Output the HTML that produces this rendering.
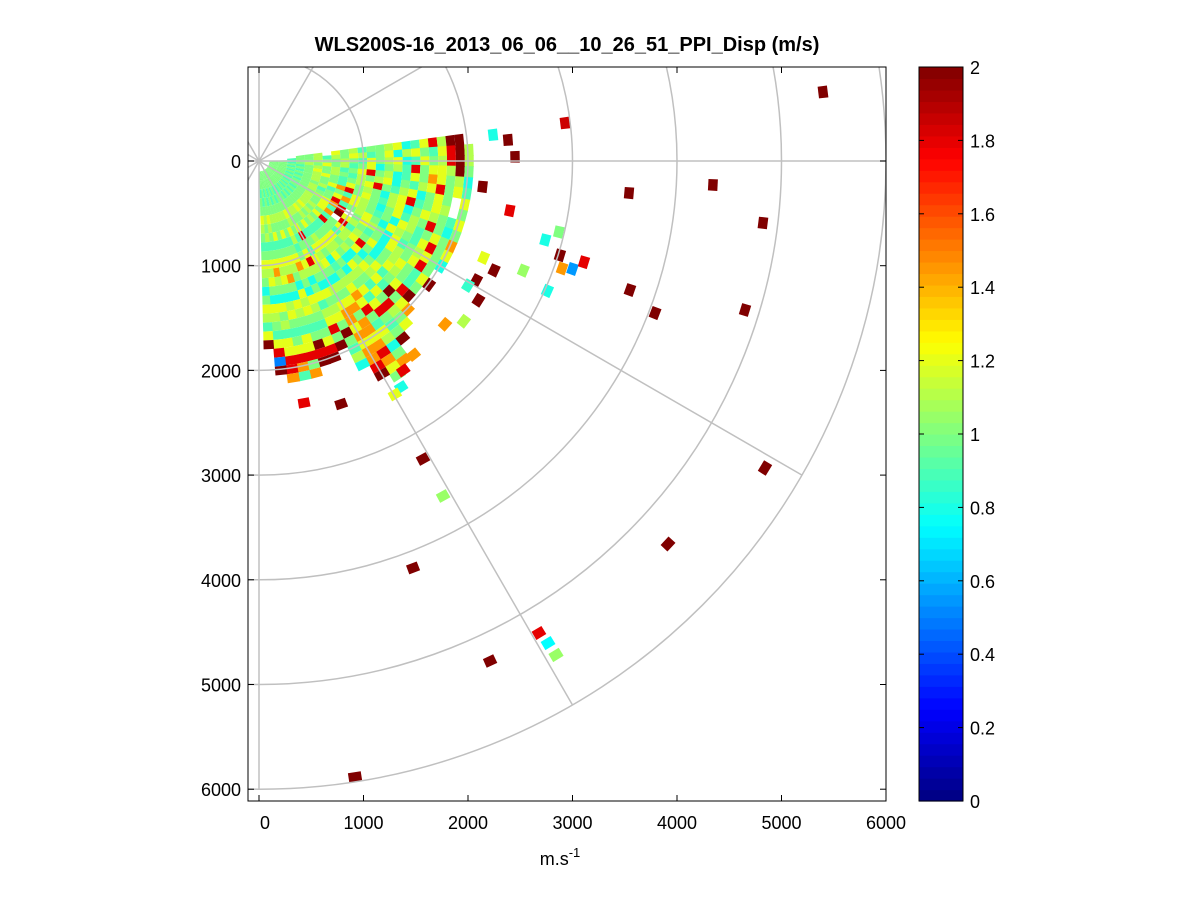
<!DOCTYPE html>
<html><head><meta charset="utf-8">
<style>
html,body{margin:0;padding:0;background:#fff;}
svg{display:block;font-family:"Liberation Sans",sans-serif;}
</style></head>
<body>
<svg id="chart" width="1201" height="901" viewBox="0 0 1201 901">
<defs><clipPath id="pc"><rect x="248" y="67" width="638" height="734"/></clipPath></defs>
<rect x="0" y="0" width="1201" height="901" fill="#fff"/>
<text x="567" y="51" font-size="20" font-weight="bold" text-anchor="middle">WLS200S-16_2013_06_06__10_26_51_PPI_Disp (m/s)</text>
<g id="plot" clip-path="url(#pc)"></g>
<rect x="248" y="67" width="638" height="734" fill="none" stroke="#000" stroke-width="1"/>
<g id="axes"></g>
<text x="560" y="865" font-size="18" text-anchor="middle">m.s<tspan dy="-8" font-size="13">-1</tspan></text>
<g id="cbar"></g>
</svg>
<script>
// ---- data ----
const xTicks=[0,1000,2000,3000,4000,5000,6000];
const yTicks=[0,1000,2000,3000,4000,5000,6000];
const cbTicks=[0,0.2,0.4,0.6,0.8,1,1.2,1.4,1.6,1.8,2];
const rings=[1000,2000,3000,4000,5000,6000];
const spokes=[-150,-120,-90,-60,-30,0,30,60,90,120,150,180];
// fan rays (azimuth deg, clockwise from +x, downward positive)
const rayAz=[-6,-3,0,3,6,9,12,15,18,21,24,27,30,33,36,39,42,45,48,51,54,57,60,63,66,69,72,75,78,81,84,87];
const gateStart=100, gateLen=85;
const codeVal={b:0.5,c:0.8,t:0.9,g:1.0,l:1.1,y:1.2,o:1.45,r:1.8,d:2.0};
const rayVals=[
"   ggl ygltgglyctyrldd",
"  tggltlgyltgyclygtyrdl",
"ggtgglgglgtyglyctyglrdl",
"ggtglgygltgycgltrgyyldg",
"gggtglgltgyrglctygoyglc",
"ggtggyglgtlglycgtlyrgyt",
"gggtglygtglyrgtlycgyg y",
"ggtgglggtyglgclyrtgyl g",
"gggtglgyorgygtlycgylgty",
"ggtgggltgtylgcgytlgrgcg",
"gggtgltgyoylgtgcyltgygo",
"ggtgglggrtglygcylgtyrgy",
"gggtgglyor gylgcytglygc",
"ggtgglgytdylgtgcylgyrg",
"gggtglgyo rtlgycglygtyd",
"ggtggllgtgylyrgcgylgtg",
"gggtglgyrgtlgycgytgyrd",
"ggtggylgtgyglcgylytdgyo",
"gggtglgltgylgcylgtygrlgy",
"ggtggylgtgylygclgytyrgtgd",
"gggtglgytlygctglyoyrgtylcgo",
"ggtgglggtgylygclgyogooyoroyg",
"gggtglgyrgtylgclgyooyoyoord",
"ggtggylgtgyrlgcyglygdgtlc",
"gggtglgyltgylcgytlyrgd",
"ggtgglggtgyolgcylgtgyrd",
"gggtglgytgylgcylygtgdrd",
"ggtgglggtgylogcylgtyyrgo",
"gggtglgytgylygclygtgyrot",
"ggtggylgtgyolgcygltyyrro",
"gggtglgltgylygcylgtyrbd",
"ggtggylgtgylgcgyltyd"
];
// isolated cells: x (m), y (m), value
const ptX=[5397,2928,3541,4344,4823,3550,3790,4651,4842,3914,1569,1761,1474,2211,919,2679,2766,2842,785,431,2740,2870,2880,2900,3000,3110,2760,2530,2383,2450,2240,2140,2400,2150,2250,2080,2000,2100,1960,1780,1480,1380,1360,1300];
const ptY=[-659,-363,306,229,592,1232,1452,1423,2932,3658,2846,3200,3887,4776,5883,4508,4604,4718,2321,2311,754,678,900,1026,1031,966,1240,1046,-201,-40,-250,246,474,924,1044,1140,1190,1330,1530,1560,1850,2000,2160,2230];
const ptV=[2,1.85,2,2,2,2,2,2,2,2,2,1.05,2,2,2,1.8,0.75,1.05,2,1.8,0.8,1.0,2,1.45,0.55,1.8,0.8,1.05,2,2,0.8,2,1.8,1.2,2,2,0.85,2,1.1,1.45,1.45,1.8,0.8,1.2];

// ---- scales ----
const X0=259, Y0=161, KX=0.1045, KY=0.1047;
const sx=v=>X0+v*KX, sy=v=>Y0+v*KY;
function jet(v){
  let t=Math.max(0,Math.min(1,v/2));
  const f=(a)=>Math.max(0,Math.min(1,1.5-Math.abs(4*t-a)));
  return `rgb(${Math.round(255*f(3))},${Math.round(255*f(2))},${Math.round(255*f(1))})`;
}
const NS="http://www.w3.org/2000/svg";
function mk(tag,attrs,parent){const e=document.createElementNS(NS,tag);for(const k in attrs)e.setAttribute(k,attrs[k]);parent.appendChild(e);return e;}
const plot=document.getElementById('plot');
function cellPath(r0,r1,a0,a1){
  const d=Math.PI/180,p=[];
  [[r0,a0],[r1,a0],[r1,a1],[r0,a1]].forEach(([r,a])=>p.push(sx(r*Math.cos(a*d)).toFixed(1)+','+sy(r*Math.sin(a*d)).toFixed(1)));
  return 'M'+p.join('L')+'Z';
}
// fan
rayAz.forEach((az,i)=>{
  const s=rayVals[i];
  for(let j=0;j<s.length;j++){
    const c=s[j]; if(!(c in codeVal)) continue;
    const r0=gateStart+j*gateLen;
    const el=mk('path',{d:cellPath(r0,r0+gateLen,az-1.6,az+1.6),fill:jet(codeVal[c])},plot);
    
    
  }
});
// isolated cells
ptX.forEach((x,i)=>{
  const r=Math.hypot(x,ptY[i]), a=Math.atan2(ptY[i],x)*180/Math.PI;
  const da=Math.max(1.2,110/r*180/Math.PI);
  const el=mk('path',{d:cellPath(r-45,r+45,a-da/2,a+da/2),fill:jet(ptV[i])},plot);
  
  
});
// grid
rings.forEach(r=>{
  const el=mk('ellipse',{cx:sx(0),cy:sy(0),rx:r*KX,ry:r*KY,fill:'none',stroke:'#c0c0c0','stroke-width':1.5},plot);
  
  
});
spokes.forEach(a=>{
  const d=Math.PI/180,R=6000;
  const el=mk('line',{x1:sx(0),y1:sy(0),x2:sx(R*Math.cos(a*d)),y2:sy(R*Math.sin(a*d)),stroke:'#c0c0c0','stroke-width':1.5},plot);
  
  
});
// axes ticks
const ax=document.getElementById('axes');
xTicks.forEach(v=>{
  const x=sx(v);
  mk('line',{x1:x,y1:801,x2:x,y2:795,stroke:'#000'},ax);
  mk('line',{x1:x,y1:67,x2:x,y2:73,stroke:'#000'},ax);
  const t=mk('text',{x:x+(v===0?6:0),y:829,'font-size':18,'text-anchor':'middle'},ax);
  t.textContent=v;
  
  
});
yTicks.forEach(v=>{
  const y=sy(v);
  mk('line',{x1:248,y1:y,x2:254,y2:y,stroke:'#000'},ax);
  mk('line',{x1:886,y1:y,x2:880,y2:y,stroke:'#000'},ax);
  const t=mk('text',{x:241,y:y+7,'font-size':18,'text-anchor':'end'},ax);
  t.textContent=v;
  
  
});
// colorbar
const cb=document.getElementById('cbar');
const CT=67,CB=801,CL=919,CR=963,N=64;
for(let i=0;i<N;i++){
  const y0=CB-(i+1)*(CB-CT)/N;
  mk('rect',{x:CL,y:y0,width:CR-CL,height:(CB-CT)/N+0.6,fill:jet((i+0.5)/N*2)},cb);
}
mk('rect',{x:CL,y:CT,width:CR-CL,height:CB-CT,fill:'none',stroke:'#000'},cb);
cbTicks.forEach(v=>{
  const y=CB-v/2*(CB-CT);
  mk('line',{x1:CR,y1:y,x2:CR-5,y2:y,stroke:'#000'},cb);
  mk('line',{x1:CL,y1:y,x2:CL+5,y2:y,stroke:'#000'},cb);
  const t=mk('text',{x:970,y:y+7,'font-size':18},cb);
  t.textContent=v;
  
  
});
</script>
</body></html>
